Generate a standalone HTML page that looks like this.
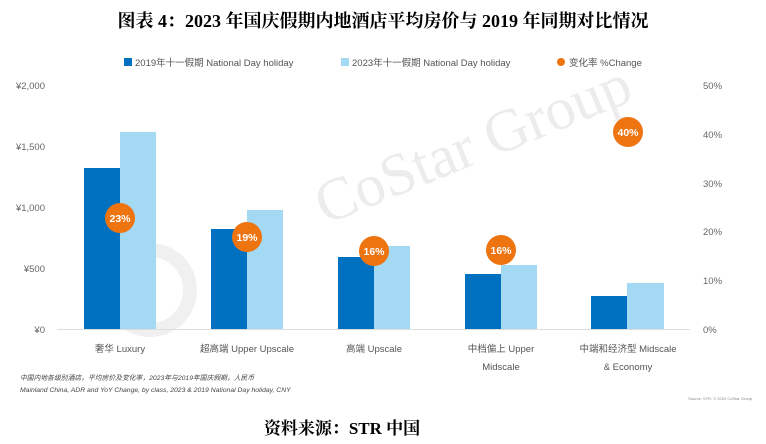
<!DOCTYPE html>
<html><head><meta charset="utf-8"><style>
html,body{margin:0;padding:0;background:#fff;}
body{width:766px;height:444px;overflow:hidden;position:relative;}
svg{position:absolute;left:0;top:0;}
</style></head><body>
<svg width="766" height="444" viewBox="0 0 766 444" xmlns="http://www.w3.org/2000/svg">
<text x="383" y="27" text-anchor="middle" font-family="'Liberation Serif','Noto Serif CJK SC',serif" font-weight="bold" font-size="18" fill="#000">图表 4：2023 年国庆假期内地酒店平均房价与 2019 年同期对比情况</text>
<!-- watermark -->
<text x="325" y="225" transform="rotate(-22 325 225)" font-family="'Liberation Serif',serif" font-size="60" fill="#ececec">CoStar Group</text>
<circle cx="150" cy="290" r="40" fill="none" stroke="#f0f0f0" stroke-width="14"/>
<g font-family="'Liberation Sans','Noto Sans CJK SC',sans-serif" font-size="9.5" fill="#555">
<rect x="124" y="58" width="8" height="8" fill="#0070c0"/>
<text x="135" y="66">2019年十一假期 National Day holiday</text>
<rect x="341" y="58" width="8" height="8" fill="#a3d9f3"/>
<text x="352" y="66">2023年十一假期 National Day holiday</text>
<circle cx="561" cy="62" r="4" fill="#ee7410"/>
<text x="569" y="66">变化率 %Change</text>
</g>
<g font-family="'Liberation Sans',sans-serif" font-size="9.5" fill="#666" text-anchor="end">
<text x="45" y="89">¥2,000</text><text x="45" y="150">¥1,500</text><text x="45" y="211">¥1,000</text><text x="45" y="272">¥500</text><text x="45" y="333">¥0</text>
</g>
<g font-family="'Liberation Sans',sans-serif" font-size="9.5" fill="#666">
<text x="703" y="89">50%</text><text x="703" y="138">40%</text><text x="703" y="187">30%</text><text x="703" y="235">20%</text><text x="703" y="284">10%</text><text x="703" y="333">0%</text>
</g>
<line x1="57" y1="329.5" x2="690" y2="329.5" stroke="#ddd" stroke-width="1"/>
<g fill="#0070c0">
<rect x="84" y="168" width="36" height="161"/>
<rect x="211" y="229" width="36" height="100"/>
<rect x="338" y="257" width="36" height="72"/>
<rect x="465" y="274" width="36" height="55"/>
<rect x="591" y="296" width="36" height="33"/>
</g>
<g fill="#a3d9f3">
<rect x="120" y="132" width="36" height="197"/>
<rect x="247" y="210" width="36" height="119"/>
<rect x="374" y="246" width="36" height="83"/>
<rect x="501" y="265" width="36" height="64"/>
<rect x="627" y="283" width="37" height="46"/>
</g>
<g fill="#ee7410">
<circle cx="120" cy="218" r="15"/><circle cx="247" cy="237" r="15"/><circle cx="374" cy="251" r="15"/><circle cx="501" cy="250" r="15"/><circle cx="628" cy="132" r="15"/>
</g>
<g font-family="'Liberation Sans',sans-serif" font-size="10.5" font-weight="bold" fill="#fff" text-anchor="middle">
<text x="120" y="222">23%</text><text x="247" y="241">19%</text><text x="374" y="255">16%</text><text x="501" y="254">16%</text><text x="628" y="136">40%</text>
</g>
<g font-family="'Liberation Sans','Noto Sans CJK SC',sans-serif" font-size="9.5" fill="#555" text-anchor="middle">
<text x="120" y="352">奢华 Luxury</text>
<text x="247" y="352">超高端 Upper Upscale</text>
<text x="374" y="352">高端 Upscale</text>
<text x="501" y="352">中档偏上 Upper</text>
<text x="501" y="370">Midscale</text>
<text x="628" y="352">中端和经济型 Midscale</text>
<text x="628" y="370">&amp; Economy</text>
</g>
<g font-family="'Liberation Sans','Noto Sans CJK SC',sans-serif" font-size="6.8" font-style="italic" fill="#444">
<text x="20" y="380">中国内地各级别酒店，平均房价及变化率，2023年与2019年国庆假期，人民币</text>
<text x="20" y="392">Mainland China, ADR and YoY Change, by class, 2023 &amp; 2019 National Day holiday, CNY</text>
</g>
<text x="752" y="400" text-anchor="end" font-family="'Liberation Sans',sans-serif" font-size="4" fill="#888">Source: STR. © 2023 CoStar Group</text>
<text x="342" y="434" text-anchor="middle" font-family="'Liberation Serif','Noto Serif CJK SC',serif" font-weight="bold" font-size="17" fill="#000">资料来源：STR 中国</text>
</svg>
</body></html>
